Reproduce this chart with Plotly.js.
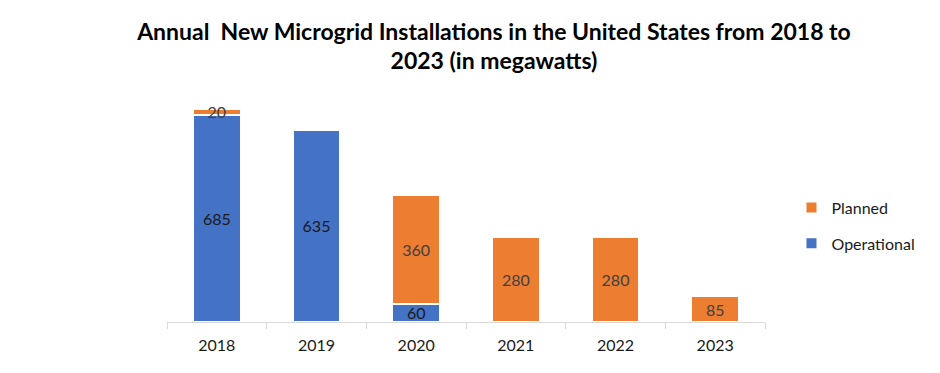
<!DOCTYPE html>
<html>
<head>
<meta charset="utf-8">
<script src="https://cdn.plot.ly/plotly-3.0.1.min.js"></script>
<style>html,body{margin:0;padding:0;background:#fff;}#chart{width:940px;height:373px;}</style>
</head>
<body>
<div id="chart"></div>
<script>
const years = ["2018", "2019", "2020", "2021", "2022", "2023"];
const operational = [685, 635, 60, 0, 0, 0];
const planned = [20, 0, 360, 280, 280, 85];
const titleText = "Annual  New Microgrid Installations in the United States from 2018 to<br>2023 (in megawatts)";

function labels(arr){ return arr.map(v => v > 0 ? String(v) : ""); }

const traces = [
  {
    type: "bar", name: "Operational", x: years, y: operational,
    text: labels(operational), textposition: "inside", insidetextanchor: "middle",
    constraintext: "none", textangle: 0,
    textfont: {family: "Lato, 'Open Sans', sans-serif", size: 16, color: "#1a1a1a"},
    marker: {color: "#4472C4", line: {color: "#ffffff", width: 2}},
    legendgroup: "op", legendrank: 2, hoverinfo: "skip"
  },
  {
    type: "bar", name: "Planned", x: years, y: planned,
    text: labels(planned), textposition: "inside", insidetextanchor: "middle",
    constraintext: "none", textangle: 0,
    textfont: {family: "Lato, 'Open Sans', sans-serif", size: 16, color: "#404040"},
    marker: {color: "#ED7D31", line: {color: "#ffffff", width: 2}},
    legendgroup: "pl", legendrank: 1, hoverinfo: "skip"
  }
];

const layout = {
  width: 940, height: 373,
  paper_bgcolor: "#ffffff", plot_bgcolor: "#ffffff",
  margin: {l: 167, r: 175, t: 80, b: 51},
  barmode: "stack", bargap: 0.52,
  title: {
    text: titleText, x: 0.5255, xanchor: "center", xref: "container", y: 0.894, yanchor: "middle",
    yref: "container",
    font: {family: "Lato, 'Open Sans', sans-serif", size: 23, color: "#000000", weight: "bold"}
  },
  xaxis: {
    type: "category", showline: true, linecolor: "#d9d9d9", linewidth: 1,
    ticks: "outside", tickson: "boundaries", ticklen: 6, tickcolor: "#d9d9d9",
    ticklabelstandoff: 9,
    showgrid: false, zeroline: false, automargin: false,
    tickfont: {family: "Lato, 'Open Sans', sans-serif", size: 16, color: "#1a1a1a"}
  },
  yaxis: {range: [0, 800], visible: false, showgrid: false, zeroline: false, automargin: false},
  legend: {
    xref: "container", yref: "container",
    x: 0.842, xanchor: "left", y: 0.395, yanchor: "middle",
    traceorder: "grouped", tracegroupgap: 12,
    font: {family: "Lato, 'Open Sans', sans-serif", size: 16, color: "#1a1a1a"}
  },
  showlegend: true
};

Plotly.newPlot("chart", traces, layout, {displayModeBar: false, staticPlot: true});
</script>
</body>
</html>
